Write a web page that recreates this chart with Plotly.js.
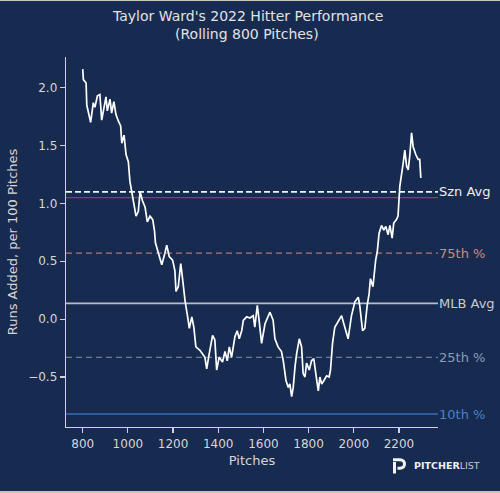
<!DOCTYPE html>
<html>
<head>
<meta charset="utf-8">
<script src="https://cdn.plot.ly/plotly-3.0.1.min.js"></script>
<style>
  html, body { margin: 0; padding: 0; background: #c9c6bf; width: 500px; height: 493px; overflow: hidden; }
  #chart { position: absolute; left: 0; top: 1px; width: 500px; height: 490px; }
</style>
</head>
<body>
<div id="chart"></div>
<script>
// Rolling run value
const pitches = [800,803,815,818,835,847,854,865,876,884,903,909,921,928,938,947,958,968,973,983,992,1002,1009,1017,1024,1036,1046,1054,1065,1076,1086,1098,1110,1118,1122,1135,1150,1164,1172,1183,1198,1208,1213,1223,1234,1242,1253,1267,1272,1283,1292,1301,1319,1341,1349,1360,1375,1385,1393,1404,1419,1430,1440,1449,1459,1474,1484,1493,1504,1511,1526,1540,1555,1562,1573,1581,1592,1607,1629,1643,1651,1665,1680,1688,1700,1710,1717,1725,1732,1740,1747,1759,1769,1776,1784,1791,1803,1813,1823,1832,1843,1850,1858,1868,1880,1891,1897,1906,1916,1931,1946,1956,1975,1990,2005,2020,2027,2039,2049,2059,2068,2074,2085,2097,2104,2112,2123,2133,2142,2152,2160,2170,2177,2189,2196,2204,2211,2219,2226,2234,2241,2248,2256,2263,2275,2285,2292,2297];
const runsAdded = [2.16,2.07,2.04,1.85,1.70,1.87,1.83,1.93,1.94,1.72,1.92,1.80,1.90,1.78,1.88,1.77,1.71,1.67,1.52,1.59,1.42,1.36,1.19,1.10,1.05,0.89,0.93,1.10,1.02,0.97,0.84,0.89,0.86,0.76,0.66,0.58,0.47,0.57,0.64,0.54,0.51,0.42,0.24,0.28,0.48,0.35,0.16,-0.01,-0.08,0.02,-0.07,-0.24,-0.27,-0.33,-0.43,-0.30,-0.14,-0.18,-0.44,-0.33,-0.37,-0.28,-0.36,-0.24,-0.33,-0.15,-0.10,-0.17,-0.10,-0.01,0.02,0.01,0.03,-0.07,0.12,-0.01,-0.21,-0.04,0.06,-0.01,-0.17,-0.24,-0.28,-0.36,-0.53,-0.59,-0.56,-0.67,-0.59,-0.41,-0.30,-0.17,-0.24,-0.47,-0.50,-0.38,-0.44,-0.36,-0.34,-0.47,-0.62,-0.50,-0.56,-0.53,-0.49,-0.50,-0.44,-0.21,-0.07,-0.02,0.03,-0.04,-0.17,0.03,0.15,0.19,0.11,-0.10,-0.08,0.11,0.22,0.35,0.28,0.51,0.58,0.74,0.81,0.77,0.80,0.73,0.81,0.70,0.83,0.86,0.89,1.15,1.23,1.35,1.46,1.32,1.29,1.41,1.61,1.49,1.42,1.38,1.38,1.22];

// Reference lines
const refNames  = ["Szn Avg", "75th %", "MLB Avg", "25th %", "10th %"];
const refValues = [1.10, 0.57, 0.136, -0.33, -0.82];
const refLineColors = ["#f2f2f2", "#a9787a", "#b9bdc7", "#6a7c9e", "#3a6cb3"];
const refTextColors = ["#eeeeee", "#cf8a80", "#c6cad3", "#8e9bb6", "#4f80c4"];
const refDash = ["6px,3px", "6px,4px", "solid", "6px,4px", "solid"];
const refWidth = [1.8, 1.2, 1.6, 1.2, 1.5];
const playerLineValue = 1.05;

const xTicks = [800,1000,1200,1400,1600,1800,2000,2200];
const yTicks = [-0.5,0,0.5,1.0,1.5,2.0];
const titleLines = ["Taylor Ward's 2022 Hitter Performance", "(Rolling 800 Pitches)"];

const navy = "#172b50";
const axisGray = "#d2d2d2";
const font = "DejaVu Sans, Verdana, sans-serif";

// pixel -> paper helpers (page pixels)
const L = 66, R = 438, T = 57, B = 427;
const PX = p => (p - L) / (R - L);
const PY = p => (B - p) / (B - T);

const shapes = [];
shapes.push({type:"line", xref:"paper", x0:0, x1:1, yref:"y", y0:playerLineValue, y1:playerLineValue,
  line:{color:"#a23648", width:1.2}, layer:"below"});
refValues.forEach((v,i)=>{
  shapes.push({type:"line", xref:"paper", x0:0, x1:1, yref:"y", y0:v, y1:v,
    line:{color:refLineColors[i], width:refWidth[i], dash:refDash[i]}, layer:"below"});
});

// Logo icon (decoration)
shapes.push({type:"path", xref:"paper", yref:"paper",
  path:`M ${PX(394.5)},${PY(462)} L ${PX(394.5)},${PY(473.5)}`,
  line:{color:"#f4f4f4", width:3}});
shapes.push({type:"path", xref:"paper", yref:"paper",
  path:`M ${PX(393)},${PY(459.8)} L ${PX(400)},${PY(459.8)} C ${PX(406)},${PY(459.8)} ${PX(406)},${PY(468.3)} ${PX(400)},${PY(468.3)} L ${PX(397.5)},${PY(468.3)}`,
  line:{color:"#f4f4f4", width:3}});

const annotations = refNames.map((n,i)=>({
  text:n, xref:"paper", x:1, xanchor:"left", yref:"y", y:refValues[i], yanchor:"middle",
  showarrow:false, xshift:-1, font:{family:font, size:13, color:refTextColors[i]}
}));
annotations.push({
  text:"<b>PITCHER</b><span style='color:#c4c8d0'>LIST</span>",
  xref:"paper", yref:"paper", x:PX(412), y:PY(465.5), xanchor:"left", yanchor:"middle",
  showarrow:false, font:{family:font, size:9.5, color:"#f0f0f0"}
});
// Title, two centred lines
[16, 33.5].forEach((py, i) => {
  annotations.push({
    text:titleLines[i], xref:"paper", yref:"paper", x:PX(247), y:PY(py),
    xanchor:"center", yanchor:"middle", showarrow:false,
    font:{family:font, size:14, color:"#e2e2e2"}
  });
});

const trace = {
  x: pitches, y: runsAdded, type:"scatter", mode:"lines",
  line:{color:"#ffffff", width:1.7}, hoverinfo:"skip"
};

const layout = {
  width:500, height:490,
  paper_bgcolor:navy, plot_bgcolor:navy,
  margin:{l:66, r:62, t:56, b:64, pad:0},
  showlegend:false,
  font:{family:font, color:"#d8d8d8"},
  xaxis:{range:[726,2373], tickvals:xTicks, ticktext:xTicks.map(String),
    showgrid:false, zeroline:false, showline:true, linecolor:axisGray, linewidth:1.3,
    ticks:"outside", ticklen:5, tickwidth:1.2, tickcolor:axisGray,
    tickfont:{family:font, size:12, color:"#d6d6d6"},
    title:{text:"Pitches", font:{family:font, size:13, color:"#d6d6d6"}, standoff:6}},
  yaxis:{range:[-0.932,2.265], tickvals:yTicks, ticktext:yTicks.map(v=>(v<0?"\u2212":"")+Math.abs(v).toFixed(1)),
    showgrid:false, zeroline:false, showline:true, linecolor:axisGray, linewidth:1.3,
    ticks:"outside", ticklen:5, tickwidth:1.2, tickcolor:axisGray,
    tickfont:{family:font, size:12, color:"#d6d6d6"},
    title:{text:"Runs Added, per 100 Pitches", font:{family:font, size:13, color:"#d6d6d6"}, standoff:7}},
  shapes: shapes,
  annotations: annotations
};

Plotly.newPlot("chart", [trace], layout, {displayModeBar:false, staticPlot:true});
</script>
</body>
</html>
